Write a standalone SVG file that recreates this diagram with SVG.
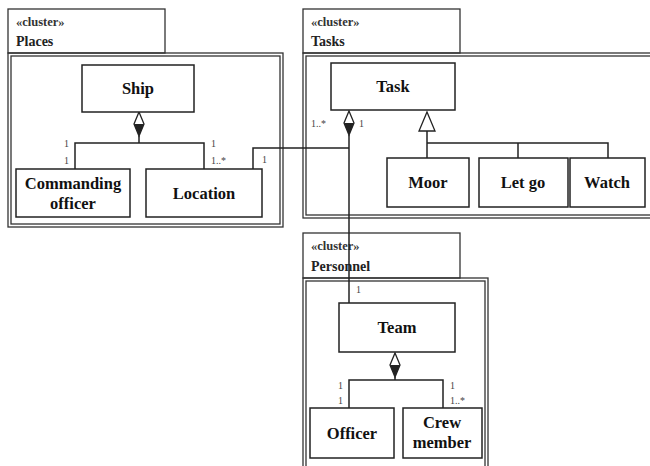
<svg xmlns="http://www.w3.org/2000/svg" width="650" height="466" viewBox="0 0 650 466">
<style>
.box{fill:#fff;stroke:#222;stroke-width:1.5}
.cl{fill:none;stroke:#333;stroke-width:1.3}
.ln{fill:none;stroke:#222;stroke-width:1.5}
.t{font-family:"Liberation Serif",serif;font-weight:bold;font-size:16.5px;fill:#111;text-anchor:middle}
.ct{font-family:"Liberation Serif",serif;font-weight:bold;font-size:14px;fill:#222}
.st{font-family:"Liberation Serif",serif;font-weight:bold;font-size:12.5px;fill:#333}
.m{font-family:"Liberation Serif",serif;font-size:10px;fill:#444}
</style>
<rect width="650" height="466" fill="#fff"/>
<g id="cluster-places">
<rect class="cl" x="8" y="53" width="275" height="174"/>
<rect class="cl" x="11" y="56" width="269" height="168"/>
<rect class="cl" x="8" y="9" width="157" height="44"/>
<text class="st" x="16" y="26">«cluster»</text>
<text class="ct" x="16" y="46">Places</text>
</g>
<g id="cluster-tasks">
<rect class="cl" x="303" y="53" width="350" height="165"/>
<rect class="cl" x="306" y="56" width="350" height="159"/>
<rect class="cl" x="303" y="9" width="157" height="44"/>
<text class="st" x="311" y="26">«cluster»</text>
<text class="ct" x="311" y="46">Tasks</text>
</g>
<g id="cluster-personnel">
<rect class="cl" x="303" y="278" width="185" height="192"/>
<rect class="cl" x="306" y="281" width="179" height="192"/>
<rect class="cl" x="303" y="233" width="157" height="45"/>
<text class="st" x="311" y="250">«cluster»</text>
<text class="ct" x="311" y="271">Personnel</text>
</g>
<g id="connectors">
<polygon points="139,112 144,124 139,136 134,124" fill="#fff" stroke="#222" stroke-width="1.3"/>
<polygon points="134,124 144,124 139,136" fill="#222"/>
<polyline class="ln" points="139,136 139,143"/>
<polyline class="ln" points="75,169 75,143 204,143 204,169"/>
<polyline class="ln" points="253,169 253,148 349,148"/>
<polygon points="349,111 354,123 349,135 344,123" fill="#fff" stroke="#222" stroke-width="1.3"/>
<polygon points="344,123 354,123 349,135" fill="#222"/>
<polyline class="ln" points="349,135 349,303"/>
<polygon points="427,112 435,131 419,131" fill="#fff" stroke="#222" stroke-width="1.3"/>
<polyline class="ln" points="427,131 427,158"/>
<polyline class="ln" points="427,143 608,143 608,158"/>
<polyline class="ln" points="518,143 518,158"/>
<polygon points="395,353 400,365 395,377 390,365" fill="#fff" stroke="#222" stroke-width="1.3"/>
<polygon points="390,365 400,365 395,377" fill="#222"/>
<polyline class="ln" points="395,377 395,380"/>
<polyline class="ln" points="349,408 349,380 443,380 443,408"/>
<text class="m" x="64" y="147">1</text>
<text class="m" x="64" y="164">1</text>
<text class="m" x="211" y="147">1</text>
<text class="m" x="211" y="164">1..*</text>
<text class="m" x="262" y="163">1</text>
<text class="m" x="311" y="127">1..*</text>
<text class="m" x="359" y="127">1</text>
<text class="m" x="356" y="293">1</text>
<text class="m" x="338" y="389">1</text>
<text class="m" x="338" y="404">1</text>
<text class="m" x="450" y="389">1</text>
<text class="m" x="450" y="404">1..*</text>
</g>
<g id="ship"><rect class="box" x="82" y="65" width="112" height="47"/><text class="t" x="138" y="94">Ship</text></g>
<g id="commanding-officer"><rect class="box" x="16" y="169" width="114" height="48"/><text class="t" x="73" y="189">Commanding</text><text class="t" x="73" y="209">officer</text></g>
<g id="location"><rect class="box" x="146" y="169" width="116" height="48"/><text class="t" x="204" y="199">Location</text></g>
<g id="task"><rect class="box" x="331" y="63" width="124" height="47"/><text class="t" x="393" y="92">Task</text></g>
<g id="moor"><rect class="box" x="387" y="158" width="82" height="49"/><text class="t" x="428" y="188">Moor</text></g>
<g id="let-go"><rect class="box" x="479" y="158" width="89" height="49"/><text class="t" x="523" y="188">Let go</text></g>
<g id="watch"><rect class="box" x="570" y="158" width="75" height="49"/><text class="t" x="607" y="188">Watch</text></g>
<g id="team"><rect class="box" x="339" y="303" width="116" height="49"/><text class="t" x="397" y="333">Team</text></g>
<g id="officer"><rect class="box" x="310" y="408" width="84" height="50"/><text class="t" x="352" y="439">Officer</text></g>
<g id="crew-member"><rect class="box" x="403" y="408" width="79" height="50"/><text class="t" x="442" y="428">Crew</text><text class="t" x="442" y="448">member</text></g>
</svg>
